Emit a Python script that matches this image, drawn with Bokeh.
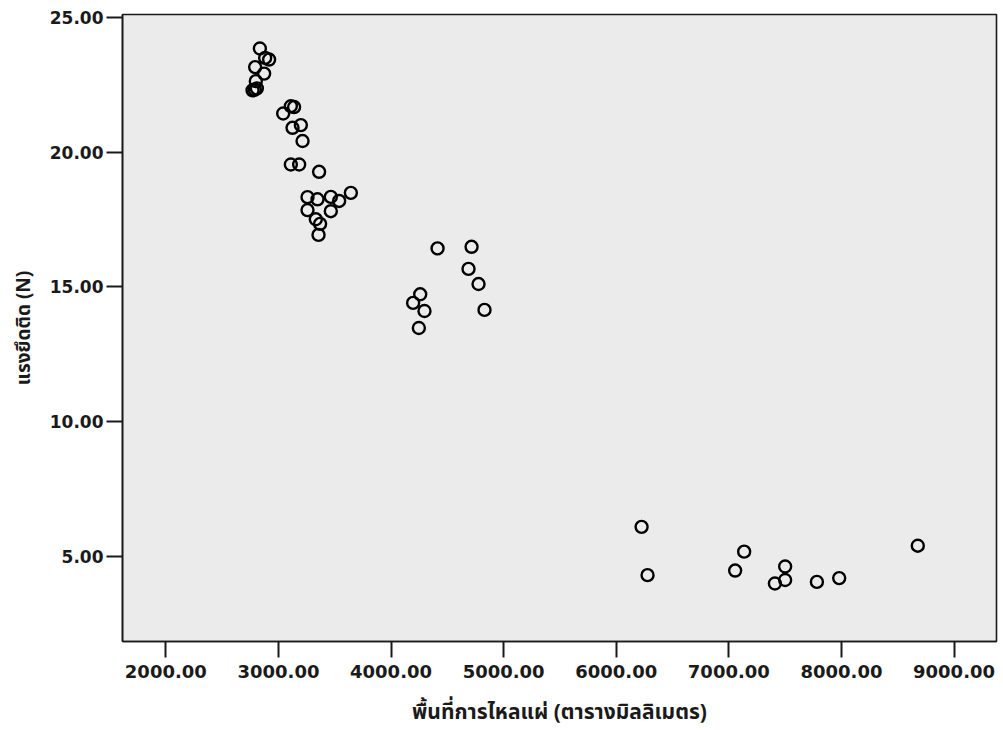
from bokeh.plotting import figure
from bokeh.models import FixedTicker, PrintfTickFormatter, Range1d
from bokeh.embed import file_html
from bokeh.resources import INLINE

# Spread area (mm^2) and bond strength (N) for each specimen
spread_area = [
    2835, 2882, 2917, 2793, 2873, 2799, 2770, 2808, 2790,
    3110, 3139, 3042, 3125, 3199, 3214, 3110, 3184, 3361,
    3258, 3347, 3465, 3539, 3643, 3258, 3465, 3332, 3370, 3356,
    4413, 4715, 4688, 4777, 4259, 4196, 4297, 4830, 4247,
    6225, 6278, 7136, 7056, 7500, 7500, 7409, 7782, 7980, 8678,
]
bond_force = [
    23.84, 23.49, 23.43, 23.15, 22.91, 22.63, 22.29, 22.36, 22.31,
    21.70, 21.67, 21.43, 20.90, 21.00, 20.41, 19.54, 19.54, 19.27,
    18.33, 18.25, 18.34, 18.19, 18.49, 17.85, 17.81, 17.51, 17.34, 16.93,
    16.43, 16.49, 15.67, 15.11, 14.73, 14.41, 14.11, 14.15, 13.48,
    6.11, 4.32, 5.19, 4.49, 4.64, 4.14, 4.01, 4.07, 4.21, 5.41,
]

x_ticks = [2000, 3000, 4000, 5000, 6000, 7000, 8000, 9000]
y_ticks = [5, 10, 15, 20, 25]

x_title = "พื้นที่การไหลแผ่ (ตารางมิลลิเมตร)"
y_title = "แรงยึดติด (N)"

TICK_FONT = "DejaVu Sans"
THAI_FONT = "Noto Sans Thai, Noto Sans, Tahoma, sans-serif"
INK = "#1a1a1a"

p = figure(
    width=1003, height=730,
    output_backend="svg", toolbar_location=None,
    x_range=Range1d(1615, 9377), y_range=Range1d(1.86, 25.1),
    min_border_left=122, min_border_right=7,
    min_border_top=14, min_border_bottom=89,
)

p.background_fill_color = "#ebebeb"
p.border_fill_color = "white"
p.outline_line_color = INK
p.outline_line_width = 1.6
p.grid.visible = False

p.scatter(spread_area, bond_force, marker="circle", size=12,
          fill_color=None, line_color="black", line_width=2.4)

for ax in (p.xaxis[0], p.yaxis[0]):
    ax.axis_line_color = INK
    ax.axis_line_width = 1.6
    ax.major_tick_line_color = INK
    ax.major_tick_line_width = 2
    ax.major_tick_in = 0
    ax.major_tick_out = 16
    ax.minor_tick_line_color = None
    ax.major_label_text_font = TICK_FONT
    ax.major_label_text_font_style = "bold"
    ax.major_label_text_color = INK
    ax.axis_label_text_font = THAI_FONT
    ax.axis_label_text_font_style = "bold"
    ax.axis_label_text_color = INK
    ax.formatter = PrintfTickFormatter(format="%.2f")

p.xaxis[0].ticker = FixedTicker(ticks=x_ticks)
p.yaxis[0].ticker = FixedTicker(ticks=y_ticks)
p.xaxis[0].major_label_text_font_size = "18px"
p.yaxis[0].major_label_text_font_size = "17px"
p.xaxis[0].major_label_standoff = 7
p.yaxis[0].major_label_standoff = 3
p.xaxis[0].axis_label = x_title
p.yaxis[0].axis_label = y_title
p.xaxis[0].axis_label_text_font_size = "21px"
p.yaxis[0].axis_label_text_font_size = "19px"
p.xaxis[0].axis_label_standoff = 16
p.yaxis[0].axis_label_standoff = 8

open("out.html", "w").write(file_html(p, INLINE))
